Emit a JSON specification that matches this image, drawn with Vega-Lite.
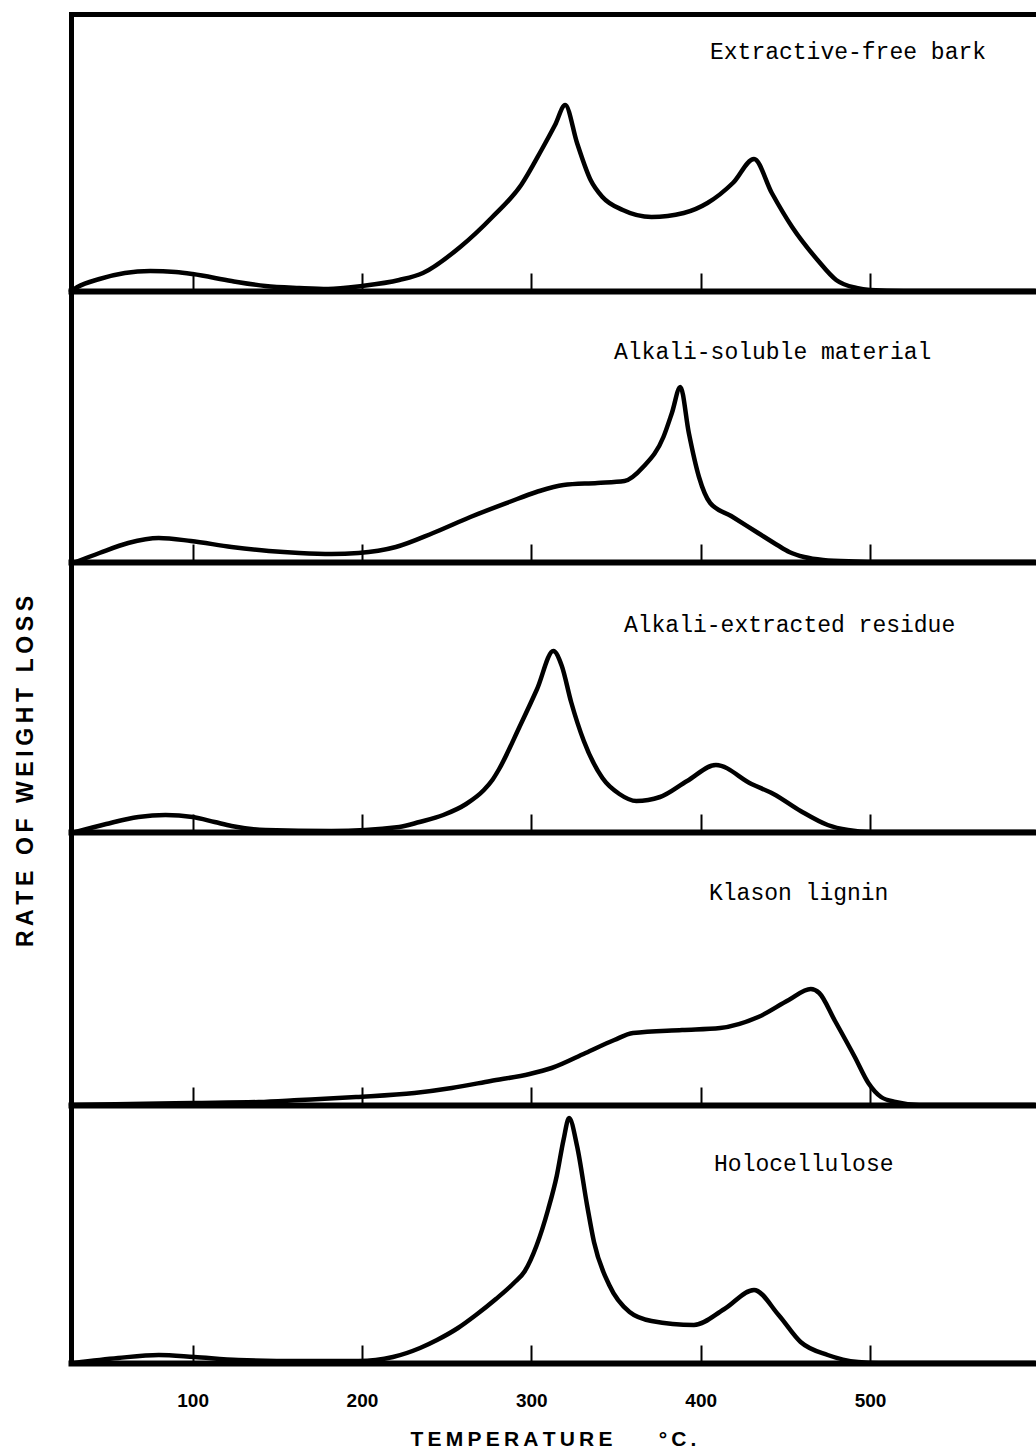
{
  "$schema": "https://vega.github.io/schema/vega-lite/v6.json",
  "background": "white",
  "padding": {"left": 14, "top": 14, "right": 0, "bottom": 0},
  "bounds": "flush",
  "spacing": 0,
  "config": {
    "view": {"stroke": null},
    "axis": {"grid": false, "domainColor": "black", "tickColor": "black", "labelColor": "black", "titleColor": "black"},
    "line": {"color": "black", "strokeWidth": 4.5, "strokeCap": "round", "strokeJoin": "round", "interpolate": "monotone"},
    "text": {"font": "Liberation Mono", "fontSize": 23, "color": "black", "align": "left", "baseline": "middle"}
  },
  "data": {
    "values": [
      {"sample": "Extractive-free bark", "t": 28.2, "rate": 0},
      {"sample": "Extractive-free bark", "t": 32, "rate": 4},
      {"sample": "Extractive-free bark", "t": 45, "rate": 12},
      {"sample": "Extractive-free bark", "t": 60, "rate": 18},
      {"sample": "Extractive-free bark", "t": 75, "rate": 20},
      {"sample": "Extractive-free bark", "t": 90, "rate": 19},
      {"sample": "Extractive-free bark", "t": 100, "rate": 17},
      {"sample": "Extractive-free bark", "t": 123, "rate": 10},
      {"sample": "Extractive-free bark", "t": 143, "rate": 5},
      {"sample": "Extractive-free bark", "t": 163, "rate": 3},
      {"sample": "Extractive-free bark", "t": 180, "rate": 2},
      {"sample": "Extractive-free bark", "t": 200, "rate": 5},
      {"sample": "Extractive-free bark", "t": 222, "rate": 11},
      {"sample": "Extractive-free bark", "t": 236, "rate": 18},
      {"sample": "Extractive-free bark", "t": 258, "rate": 44},
      {"sample": "Extractive-free bark", "t": 277, "rate": 74},
      {"sample": "Extractive-free bark", "t": 294, "rate": 106},
      {"sample": "Extractive-free bark", "t": 306, "rate": 141},
      {"sample": "Extractive-free bark", "t": 314, "rate": 166},
      {"sample": "Extractive-free bark", "t": 320, "rate": 186},
      {"sample": "Extractive-free bark", "t": 327, "rate": 148},
      {"sample": "Extractive-free bark", "t": 335, "rate": 111},
      {"sample": "Extractive-free bark", "t": 342, "rate": 94},
      {"sample": "Extractive-free bark", "t": 354, "rate": 81},
      {"sample": "Extractive-free bark", "t": 371, "rate": 74},
      {"sample": "Extractive-free bark", "t": 390, "rate": 78},
      {"sample": "Extractive-free bark", "t": 404, "rate": 88},
      {"sample": "Extractive-free bark", "t": 419, "rate": 108},
      {"sample": "Extractive-free bark", "t": 431.5, "rate": 132},
      {"sample": "Extractive-free bark", "t": 442, "rate": 98},
      {"sample": "Extractive-free bark", "t": 454, "rate": 64},
      {"sample": "Extractive-free bark", "t": 469, "rate": 31},
      {"sample": "Extractive-free bark", "t": 480, "rate": 11},
      {"sample": "Extractive-free bark", "t": 492, "rate": 3},
      {"sample": "Extractive-free bark", "t": 500, "rate": 1},
      {"sample": "Extractive-free bark", "t": 520, "rate": 0},
      {"sample": "Extractive-free bark", "t": 597, "rate": 0},

      {"sample": "Alkali-soluble material", "t": 31, "rate": 0},
      {"sample": "Alkali-soluble material", "t": 45, "rate": 9},
      {"sample": "Alkali-soluble material", "t": 62, "rate": 19},
      {"sample": "Alkali-soluble material", "t": 80, "rate": 24},
      {"sample": "Alkali-soluble material", "t": 99, "rate": 21},
      {"sample": "Alkali-soluble material", "t": 123, "rate": 15},
      {"sample": "Alkali-soluble material", "t": 145, "rate": 11},
      {"sample": "Alkali-soluble material", "t": 163, "rate": 9},
      {"sample": "Alkali-soluble material", "t": 182, "rate": 8},
      {"sample": "Alkali-soluble material", "t": 198, "rate": 9},
      {"sample": "Alkali-soluble material", "t": 220, "rate": 15},
      {"sample": "Alkali-soluble material", "t": 242, "rate": 29},
      {"sample": "Alkali-soluble material", "t": 264, "rate": 45},
      {"sample": "Alkali-soluble material", "t": 287, "rate": 60},
      {"sample": "Alkali-soluble material", "t": 303, "rate": 70},
      {"sample": "Alkali-soluble material", "t": 319, "rate": 77},
      {"sample": "Alkali-soluble material", "t": 339, "rate": 79},
      {"sample": "Alkali-soluble material", "t": 355, "rate": 81},
      {"sample": "Alkali-soluble material", "t": 366, "rate": 95},
      {"sample": "Alkali-soluble material", "t": 378, "rate": 125},
      {"sample": "Alkali-soluble material", "t": 383, "rate": 149},
      {"sample": "Alkali-soluble material", "t": 388, "rate": 175},
      {"sample": "Alkali-soluble material", "t": 393, "rate": 129},
      {"sample": "Alkali-soluble material", "t": 399, "rate": 85},
      {"sample": "Alkali-soluble material", "t": 405.6, "rate": 59},
      {"sample": "Alkali-soluble material", "t": 418, "rate": 46},
      {"sample": "Alkali-soluble material", "t": 433.9, "rate": 29},
      {"sample": "Alkali-soluble material", "t": 445.2, "rate": 17},
      {"sample": "Alkali-soluble material", "t": 452.3, "rate": 10},
      {"sample": "Alkali-soluble material", "t": 461.1, "rate": 5},
      {"sample": "Alkali-soluble material", "t": 472.3, "rate": 2},
      {"sample": "Alkali-soluble material", "t": 490.6, "rate": 0.5},
      {"sample": "Alkali-soluble material", "t": 505, "rate": 0},
      {"sample": "Alkali-soluble material", "t": 597, "rate": 0},

      {"sample": "Alkali-extracted residue", "t": 31, "rate": 0},
      {"sample": "Alkali-extracted residue", "t": 49, "rate": 8},
      {"sample": "Alkali-extracted residue", "t": 68, "rate": 15},
      {"sample": "Alkali-extracted residue", "t": 84, "rate": 17},
      {"sample": "Alkali-extracted residue", "t": 100, "rate": 15},
      {"sample": "Alkali-extracted residue", "t": 113, "rate": 10},
      {"sample": "Alkali-extracted residue", "t": 123, "rate": 6},
      {"sample": "Alkali-extracted residue", "t": 143, "rate": 2},
      {"sample": "Alkali-extracted residue", "t": 182, "rate": 1},
      {"sample": "Alkali-extracted residue", "t": 222, "rate": 5},
      {"sample": "Alkali-extracted residue", "t": 234, "rate": 10},
      {"sample": "Alkali-extracted residue", "t": 248, "rate": 17},
      {"sample": "Alkali-extracted residue", "t": 261.5, "rate": 28},
      {"sample": "Alkali-extracted residue", "t": 272, "rate": 42},
      {"sample": "Alkali-extracted residue", "t": 277, "rate": 52},
      {"sample": "Alkali-extracted residue", "t": 281, "rate": 63},
      {"sample": "Alkali-extracted residue", "t": 293, "rate": 105},
      {"sample": "Alkali-extracted residue", "t": 303.4, "rate": 143},
      {"sample": "Alkali-extracted residue", "t": 313, "rate": 181},
      {"sample": "Alkali-extracted residue", "t": 318, "rate": 166},
      {"sample": "Alkali-extracted residue", "t": 323.5, "rate": 130},
      {"sample": "Alkali-extracted residue", "t": 331, "rate": 91},
      {"sample": "Alkali-extracted residue", "t": 342, "rate": 54},
      {"sample": "Alkali-extracted residue", "t": 352, "rate": 38},
      {"sample": "Alkali-extracted residue", "t": 362, "rate": 31},
      {"sample": "Alkali-extracted residue", "t": 376, "rate": 35},
      {"sample": "Alkali-extracted residue", "t": 392, "rate": 51},
      {"sample": "Alkali-extracted residue", "t": 409, "rate": 67},
      {"sample": "Alkali-extracted residue", "t": 430, "rate": 48},
      {"sample": "Alkali-extracted residue", "t": 443, "rate": 38},
      {"sample": "Alkali-extracted residue", "t": 459, "rate": 21},
      {"sample": "Alkali-extracted residue", "t": 475, "rate": 7},
      {"sample": "Alkali-extracted residue", "t": 487, "rate": 2},
      {"sample": "Alkali-extracted residue", "t": 500, "rate": 0},
      {"sample": "Alkali-extracted residue", "t": 597, "rate": 0},

      {"sample": "Klason lignin", "t": 28.2, "rate": 0},
      {"sample": "Klason lignin", "t": 100, "rate": 2},
      {"sample": "Klason lignin", "t": 139, "rate": 3},
      {"sample": "Klason lignin", "t": 163, "rate": 5},
      {"sample": "Klason lignin", "t": 196.5, "rate": 8},
      {"sample": "Klason lignin", "t": 231, "rate": 12},
      {"sample": "Klason lignin", "t": 253, "rate": 17},
      {"sample": "Klason lignin", "t": 276, "rate": 24},
      {"sample": "Klason lignin", "t": 299, "rate": 31},
      {"sample": "Klason lignin", "t": 312, "rate": 37},
      {"sample": "Klason lignin", "t": 332, "rate": 52},
      {"sample": "Klason lignin", "t": 349, "rate": 65},
      {"sample": "Klason lignin", "t": 360, "rate": 72},
      {"sample": "Klason lignin", "t": 389, "rate": 75},
      {"sample": "Klason lignin", "t": 411.5, "rate": 77},
      {"sample": "Klason lignin", "t": 434, "rate": 88},
      {"sample": "Klason lignin", "t": 452, "rate": 105},
      {"sample": "Klason lignin", "t": 465, "rate": 116},
      {"sample": "Klason lignin", "t": 470, "rate": 112},
      {"sample": "Klason lignin", "t": 479, "rate": 85},
      {"sample": "Klason lignin", "t": 491, "rate": 48},
      {"sample": "Klason lignin", "t": 499, "rate": 22},
      {"sample": "Klason lignin", "t": 506.5, "rate": 8},
      {"sample": "Klason lignin", "t": 515, "rate": 3},
      {"sample": "Klason lignin", "t": 529, "rate": 0},
      {"sample": "Klason lignin", "t": 597, "rate": 0},

      {"sample": "Holocellulose", "t": 30, "rate": 0},
      {"sample": "Holocellulose", "t": 56, "rate": 5},
      {"sample": "Holocellulose", "t": 80, "rate": 8},
      {"sample": "Holocellulose", "t": 101, "rate": 6},
      {"sample": "Holocellulose", "t": 127, "rate": 3},
      {"sample": "Holocellulose", "t": 163, "rate": 2},
      {"sample": "Holocellulose", "t": 198, "rate": 2},
      {"sample": "Holocellulose", "t": 218.3, "rate": 6},
      {"sample": "Holocellulose", "t": 234.3, "rate": 15},
      {"sample": "Holocellulose", "t": 244.3, "rate": 23},
      {"sample": "Holocellulose", "t": 256.7, "rate": 35},
      {"sample": "Holocellulose", "t": 267.3, "rate": 48},
      {"sample": "Holocellulose", "t": 279.1, "rate": 64},
      {"sample": "Holocellulose", "t": 289.7, "rate": 80},
      {"sample": "Holocellulose", "t": 296.2, "rate": 92},
      {"sample": "Holocellulose", "t": 303, "rate": 117},
      {"sample": "Holocellulose", "t": 310, "rate": 154},
      {"sample": "Holocellulose", "t": 315, "rate": 187},
      {"sample": "Holocellulose", "t": 319, "rate": 223},
      {"sample": "Holocellulose", "t": 322.3, "rate": 245},
      {"sample": "Holocellulose", "t": 327, "rate": 217},
      {"sample": "Holocellulose", "t": 333, "rate": 157},
      {"sample": "Holocellulose", "t": 337, "rate": 121},
      {"sample": "Holocellulose", "t": 346, "rate": 78},
      {"sample": "Holocellulose", "t": 358, "rate": 51},
      {"sample": "Holocellulose", "t": 371, "rate": 42},
      {"sample": "Holocellulose", "t": 396, "rate": 38},
      {"sample": "Holocellulose", "t": 414, "rate": 54},
      {"sample": "Holocellulose", "t": 431.5, "rate": 73},
      {"sample": "Holocellulose", "t": 446, "rate": 48},
      {"sample": "Holocellulose", "t": 459, "rate": 21},
      {"sample": "Holocellulose", "t": 475, "rate": 8},
      {"sample": "Holocellulose", "t": 493, "rate": 1},
      {"sample": "Holocellulose", "t": 505, "rate": 0},
      {"sample": "Holocellulose", "t": 597, "rate": 0}
    ]
  },
  "vconcat": [
    {
      "width": 964,
      "height": 277,
      "resolve": {"axis": {"x": "independent", "y": "independent"}},
      "layer": [
        {
          "transform": [{"filter": {"field": "sample", "equal": "Extractive-free bark"}}],
          "mark": "line",
          "encoding": {
            "x": {"field": "t", "type": "quantitative", "scale": {"domain": [28.2, 597.4], "nice": false, "zero": false},
                  "axis": {"orient": "bottom", "values": [100, 200, 300, 400, 500], "domainWidth": 6, "domainCap": "square", "tickSize": -18, "tickWidth": 2, "labels": false, "title": null}},
            "y": {"field": "rate", "type": "quantitative", "scale": {"domain": [0, 277], "nice": false},
                  "axis": {"orient": "left", "domainWidth": 5, "domainCap": "square", "ticks": false, "labels": false, "title": null}}
          }
        },
        {
          "data": {"values": [{"sample": "Extractive-free bark"}]},
          "mark": "text",
          "encoding": {
            "x": {"datum": 405.5, "type": "quantitative", "scale": {"domain": [28.2, 597.4], "nice": false, "zero": false},
                  "axis": {"orient": "top", "domainWidth": 5, "domainCap": "square", "ticks": false, "labels": false, "title": null}},
            "y": {"datum": 239, "type": "quantitative", "scale": {"domain": [0, 277], "nice": false}, "axis": null},
            "text": {"field": "sample"}
          }
        }
      ]
    },
    {
      "width": 964,
      "height": 271,
      "resolve": {"axis": {"x": "independent", "y": "independent"}},
      "layer": [
        {
          "transform": [{"filter": {"field": "sample", "equal": "Alkali-soluble material"}}],
          "mark": "line",
          "encoding": {
            "x": {"field": "t", "type": "quantitative", "scale": {"domain": [28.2, 597.4], "nice": false, "zero": false},
                  "axis": {"orient": "bottom", "values": [100, 200, 300, 400, 500], "domainWidth": 6, "domainCap": "square", "tickSize": -18, "tickWidth": 2, "labels": false, "title": null}},
            "y": {"field": "rate", "type": "quantitative", "scale": {"domain": [0, 271], "nice": false},
                  "axis": {"orient": "left", "domainWidth": 5, "domainCap": "square", "ticks": false, "labels": false, "title": null}}
          }
        },
        {
          "data": {"values": [{"sample": "Alkali-soluble material"}]},
          "mark": "text",
          "encoding": {
            "x": {"datum": 348.8, "type": "quantitative", "scale": {"domain": [28.2, 597.4], "nice": false, "zero": false}, "axis": null},
            "y": {"datum": 210, "type": "quantitative", "scale": {"domain": [0, 271], "nice": false}, "axis": null},
            "text": {"field": "sample"}
          }
        }
      ]
    },
    {
      "width": 964,
      "height": 270,
      "resolve": {"axis": {"x": "independent", "y": "independent"}},
      "layer": [
        {
          "transform": [{"filter": {"field": "sample", "equal": "Alkali-extracted residue"}}],
          "mark": "line",
          "encoding": {
            "x": {"field": "t", "type": "quantitative", "scale": {"domain": [28.2, 597.4], "nice": false, "zero": false},
                  "axis": {"orient": "bottom", "values": [100, 200, 300, 400, 500], "domainWidth": 6, "domainCap": "square", "tickSize": -18, "tickWidth": 2, "labels": false, "title": null}},
            "y": {"field": "rate", "type": "quantitative", "scale": {"domain": [0, 270], "nice": false},
                  "axis": {"orient": "left", "domainWidth": 5, "domainCap": "square", "ticks": false, "labels": false,
                           "title": "R\u2009A\u2009T\u2009E\u2009 \u2009O\u2009F\u2009 \u2009W\u2009E\u2009I\u2009G\u2009H\u2009T\u2009 \u2009L\u2009O\u2009S\u2009S",
                           "titleFont": "Liberation Sans", "titleFontWeight": "bold", "titleFontSize": 23,
                           "titleAngle": -90, "titleAlign": "center", "titleBaseline": "middle", "titleX": -46, "titleY": 209}}
          }
        },
        {
          "data": {"values": [{"sample": "Alkali-extracted residue"}]},
          "mark": "text",
          "encoding": {
            "x": {"datum": 354.7, "type": "quantitative", "scale": {"domain": [28.2, 597.4], "nice": false, "zero": false}, "axis": null},
            "y": {"datum": 207, "type": "quantitative", "scale": {"domain": [0, 270], "nice": false}, "axis": null},
            "text": {"field": "sample"}
          }
        }
      ]
    },
    {
      "width": 964,
      "height": 273,
      "resolve": {"axis": {"x": "independent", "y": "independent"}},
      "layer": [
        {
          "transform": [{"filter": {"field": "sample", "equal": "Klason lignin"}}],
          "mark": "line",
          "encoding": {
            "x": {"field": "t", "type": "quantitative", "scale": {"domain": [28.2, 597.4], "nice": false, "zero": false},
                  "axis": {"orient": "bottom", "values": [100, 200, 300, 400, 500], "domainWidth": 6, "domainCap": "square", "tickSize": -18, "tickWidth": 2, "labels": false, "title": null}},
            "y": {"field": "rate", "type": "quantitative", "scale": {"domain": [0, 273], "nice": false},
                  "axis": {"orient": "left", "domainWidth": 5, "domainCap": "square", "ticks": false, "labels": false, "title": null}}
          }
        },
        {
          "data": {"values": [{"sample": "Klason lignin"}]},
          "mark": "text",
          "encoding": {
            "x": {"datum": 404.9, "type": "quantitative", "scale": {"domain": [28.2, 597.4], "nice": false, "zero": false}, "axis": null},
            "y": {"datum": 212, "type": "quantitative", "scale": {"domain": [0, 273], "nice": false}, "axis": null},
            "text": {"field": "sample"}
          }
        }
      ]
    },
    {
      "width": 964,
      "height": 258,
      "resolve": {"axis": {"x": "independent", "y": "independent"}},
      "layer": [
        {
          "transform": [{"filter": {"field": "sample", "equal": "Holocellulose"}}],
          "mark": "line",
          "encoding": {
            "x": {"field": "t", "type": "quantitative", "scale": {"domain": [28.2, 597.4], "nice": false, "zero": false},
                  "axis": {"orient": "bottom", "values": [100, 200, 300, 400, 500], "domainWidth": 6, "domainCap": "square", "tickSize": -18, "tickWidth": 2,
                           "labels": true, "labelFont": "Liberation Sans", "labelFontWeight": "bold", "labelFontSize": 19, "labelPadding": 46, "labelDx": 8,
                           "title": "T\u2009E\u2009M\u2009P\u2009E\u2009R\u2009A\u2009T\u2009U\u2009R\u2009E\u2003\u2003\u2009\u00b0\u2009C\u2009.",
                           "titleFont": "Liberation Sans", "titleFontWeight": "bold", "titleFontSize": 21, "titleY": 76, "titleBaseline": "middle"}},
            "y": {"field": "rate", "type": "quantitative", "scale": {"domain": [0, 258], "nice": false},
                  "axis": {"orient": "left", "domainWidth": 5, "domainCap": "square", "ticks": false, "labels": false, "title": null}}
          }
        },
        {
          "data": {"values": [{"sample": "Holocellulose"}]},
          "mark": "text",
          "encoding": {
            "x": {"datum": 407.9, "type": "quantitative", "scale": {"domain": [28.2, 597.4], "nice": false, "zero": false}, "axis": null},
            "y": {"datum": 199, "type": "quantitative", "scale": {"domain": [0, 258], "nice": false}, "axis": null},
            "text": {"field": "sample"}
          }
        }
      ]
    }
  ]
}
